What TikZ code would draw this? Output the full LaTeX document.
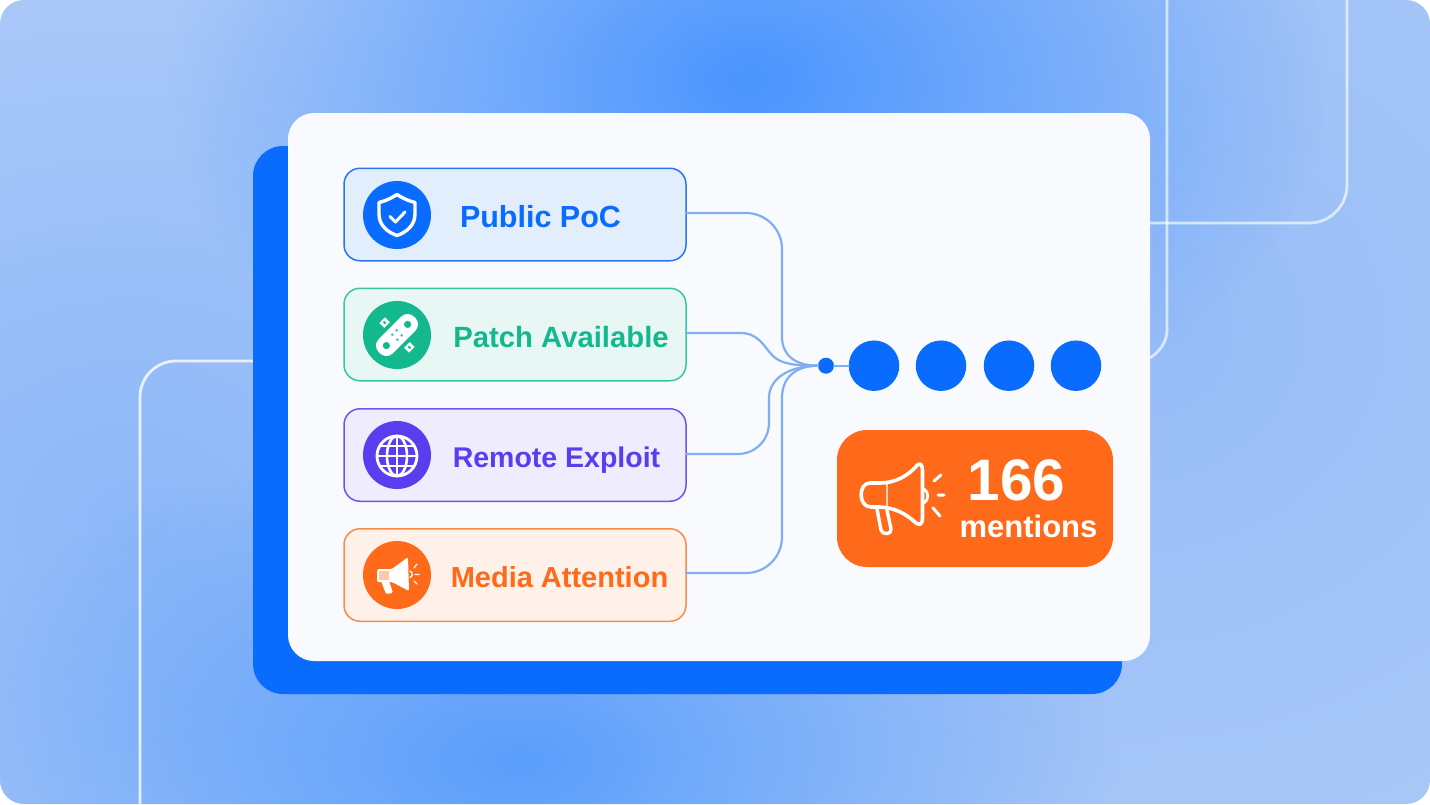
\documentclass[tikz,border=0pt]{standalone}
\usepackage{fontspec}
\setmainfont{Liberation Sans}
\usetikzlibrary{fadings}
\tikzfading[name=blob, inner color=transparent!0, outer color=transparent!100]
\definecolor{cblue}{HTML}{0A6CFF}
\definecolor{cgreen}{HTML}{14B88F}
\definecolor{cviolet}{HTML}{5B3DF0}
\definecolor{corange}{HTML}{FF6A1A}
\definecolor{clink}{HTML}{7FAEF5}
\definecolor{cbase}{HTML}{A9C8F8}
\definecolor{cpanel}{HTML}{F9FAFE}
\definecolor{blobA}{HTML}{8DB8F8}
\definecolor{blobB}{HTML}{97BDF7}
\definecolor{blobC}{HTML}{4A95FF}
\definecolor{blobD}{HTML}{5A9EFC}
\definecolor{bordA}{HTML}{2B74F2}
\definecolor{bordB}{HTML}{3BC5A0}
\definecolor{bordC}{HTML}{6F55EE}
\definecolor{bordD}{HTML}{FB8B47}
\definecolor{fillA}{HTML}{E3EEFC}
\definecolor{fillB}{HTML}{E8F7F3}
\definecolor{fillC}{HTML}{EFEDFD}
\definecolor{fillD}{HTML}{FDF1E9}
\definecolor{mshade}{HTML}{FFC9A8}
\tikzset{
 pill/.style={rounded corners=16pt,minimum width=342pt,minimum height=92.5pt,inner sep=0pt,outer sep=0pt,line width=1.5pt},
 iconbg/.style={circle,fill=#1,minimum size=68pt,inner sep=0pt,outer sep=0pt},
 pilltext/.style={text=#1,inner sep=0pt,anchor=base},
 dot/.style={circle,fill=cblue,minimum size=50.5pt,inner sep=0pt,outer sep=0pt},
 hubdot/.style={circle,fill=cblue,minimum size=16pt,inner sep=0pt,outer sep=0pt},
 link/.style={draw=clink,line width=2.2pt,line cap=round},
 deco/.style={draw=white,line width=2.8pt},
 iconline/.style={draw=white,line width=#1,line cap=round,line join=round},
 iconline/.default=3.4pt,
}
\newcommand{\pillfont}[1]{\fontsize{#1pt}{32pt}\selectfont\bfseries}
\begin{document}
\begin{tikzpicture}[x=1pt,y=-1pt]
\useasboundingbox (0,0) rectangle (1430,804);
\begin{scope}
\clip[rounded corners=24pt] (0,0) rectangle (1430,804);
\fill[cbase] (0,0) rectangle (1430,804);
\fill[blobA,path fading=blob] (130,520) ellipse [x radius=620,y radius=520];
\fill[blobB,path fading=blob] (1130,330) ellipse [x radius=640,y radius=560];
\fill[blobC,path fading=blob] (750,80) ellipse [x radius=580,y radius=400];
\fill[blobD,path fading=blob] (520,760) ellipse [x radius=600,y radius=330];
\end{scope}
% background lines
\coordinate (ltop) at (253,361);
\coordinate (lbot) at (140,804);
\draw[deco,opacity=.8] (lbot) -- (140,397) arc[start angle=180,end angle=270,radius=36] -- (ltop);
\coordinate (ra) at (1167,0);
\coordinate (rb) at (1150,358);
\draw[deco,opacity=.65] (ra) -- (1167,330) .. controls (1167,342) and (1160,351) .. (rb);
\coordinate (rc) at (1347,0);
\coordinate (rd) at (1150,223);
\draw[deco,opacity=.65] (rc) -- (1347,185) arc[start angle=0,end angle=90,radius=38] -- (rd);
% cards
\node[fill=cblue,rounded corners=30pt,minimum width=869pt,minimum height=548pt,inner sep=0pt] (back) at (687.5,420) {};
\node[fill=cpanel,rounded corners=26pt,minimum width=862pt,minimum height=548pt,inner sep=0pt] (panel) at (719,387) {};
% pills
\node[pill,draw=bordA,fill=fillA] (p1) at (515,214.5) {};
\node[pill,draw=bordB,fill=fillB] (p2) at (515,334.5) {};
\node[pill,draw=bordC,fill=fillC] (p3) at (515,455) {};
\node[pill,draw=bordD,fill=fillD] (p4) at (515,575) {};
% icon discs
\node[iconbg=cblue] (i1) at (397,215) {};
\node[iconbg=cgreen] (i2) at (397,335) {};
\node[iconbg=cviolet] (i3) at (397,455) {};
\node[iconbg=corange] (i4) at (397,575) {};
% labels
\node[pilltext=cblue,font=\pillfont{30.5}] (t1) at (540.5,227) {Public PoC};
\node[pilltext=cgreen,font=\pillfont{29.3}] (t2) at (561,347) {Patch Available};
\node[pilltext=cviolet,font=\pillfont{28.5}] (t3) at (556.5,467) {Remote Exploit};
\node[pilltext=corange,font=\pillfont{29}] (t4) at (559.5,587) {Media Attention};
% shield
\draw[iconline] (397,194.5) .. controls (390,199) and (385,201) .. (379,202.5) -- (379,214) .. controls (379,225) and (387,232) .. (397,235.5) .. controls (407,232) and (415,225) .. (415,214) -- (415,202.5) .. controls (409,201) and (404,199) .. (397,194.5) -- cycle;
\draw[iconline=3pt] (390,216.5) -- (395.5,222) -- (405,212);
% bandage
\begin{scope}[shift={(397,335)},rotate=45]
\fill[white,rounded corners=9pt] (-25,-10) rectangle (25,10);
\fill[cgreen] (-15,0) circle (3.6);
\fill[cgreen] (15,0) circle (3.6);
\fill[cgreen] (-3,-3.5) circle (1.4) (3,-3.5) circle (1.4) (-3,3.5) circle (1.4) (3,3.5) circle (1.4);
\fill[white] (-4,-21) rectangle (4,-14);
\fill[cgreen] (-1,-19) rectangle (1,-16);
\fill[white] (-4,14) rectangle (4,21);
\fill[cgreen] (-1,16) rectangle (1,19);
\end{scope}
% globe
\draw[iconline=2.8pt] (397,456) circle (20);
\draw[iconline=2.6pt] (397,456) ellipse [x radius=10,y radius=20];
\draw[iconline=2.6pt] (397,436) -- (397,476) (377,456) -- (417,456) (380,446) -- (414,446) (380,466) -- (414,466);
% small megaphone
\fill[white,rounded corners=1.5pt] (377,569) -- (392,569) -- (408,557) -- (409,591) -- (392,582) -- (377,582) -- cycle;
\fill[mshade] (378.5,571) rectangle (389,580);
\fill[white,rounded corners=1.5pt] (381,581) -- (386,594) -- (393,593) -- (389,581) -- cycle;
\draw[iconline=1.4pt] (410,571) arc[start angle=-70,end angle=70,radius=3.5];
\draw[iconline=1.2pt] (414,568) -- (417,564) (415,574.5) -- (419,574.5) (414,581) -- (417,584);
% connectors
\node[hubdot] (hub) at (826,365.7) {};
\node[dot] (d1) at (874,365.7) {};
\node[dot] (d2) at (941,365.7) {};
\node[dot] (d3) at (1009,365.7) {};
\node[dot] (d4) at (1076,365.7) {};
\draw[link] ([yshift=1.5pt]p1.east) -- (746,213) arc[start angle=-90,end angle=0,radius=36] -- (782,337) .. controls (782,355) and (795,365.7) .. (hub.west);
\draw[link] ([yshift=1.5pt]p2.east) -- (740,333) .. controls (758,333) and (763,345) .. (772,355) .. controls (780,364) and (795,365.7) .. (hub.west);
\draw[link] ([yshift=1pt]p3.east) -- (738,454) arc[start angle=90,end angle=0,radius=31] -- (769,398) .. controls (769,378) and (790,365.7) .. (hub.west);
\draw[link] ([yshift=2pt]p4.east) -- (746,573) arc[start angle=90,end angle=0,radius=36] -- (782,398) .. controls (782,378) and (795,365.7) .. (hub.west);
\draw[link] (hub.east) -- (d1.west);
% badge
\node[fill=corange,rounded corners=30pt,minimum width=276pt,minimum height=137pt,inner sep=0pt] (badge) at (975,498.5) {};
\node[text=white,font=\fontsize{58.5pt}{60pt}\selectfont\bfseries,inner sep=0pt,anchor=base] (n166) at (1016.5,500) {166};
\node[text=white,font=\fontsize{31pt}{34pt}\selectfont\bfseries,inner sep=0pt,anchor=base] (men) at (1028.5,537) {mentions};
% big megaphone
\draw[iconline=3.6pt] (870,483) -- (880,483) .. controls (895,483) and (908,476) .. (917,465.5) .. controls (920,462) and (922.5,465) .. (922.5,470) -- (922.5,518) .. controls (922.5,524) and (920,526) .. (916,523) .. controls (905,513) and (895,508) .. (880,507) -- (871,507) .. controls (858,507) and (858,483) .. (870,483) -- cycle;
\draw[white,opacity=.7,line width=2.4pt] (887,484) -- (887,506);
\draw[iconline=3.4pt] (877,509) -- (881,530) .. controls (882,535) and (892,535) .. (891,529) -- (887,510);
\draw[iconline=2.8pt] (924,489) .. controls (929,492) and (929,500) .. (924,503);
\draw[iconline=3pt] (934,481) -- (941,475) (938,495) -- (944,495) (933,508) -- (940,516);
\end{tikzpicture}
\end{document}
